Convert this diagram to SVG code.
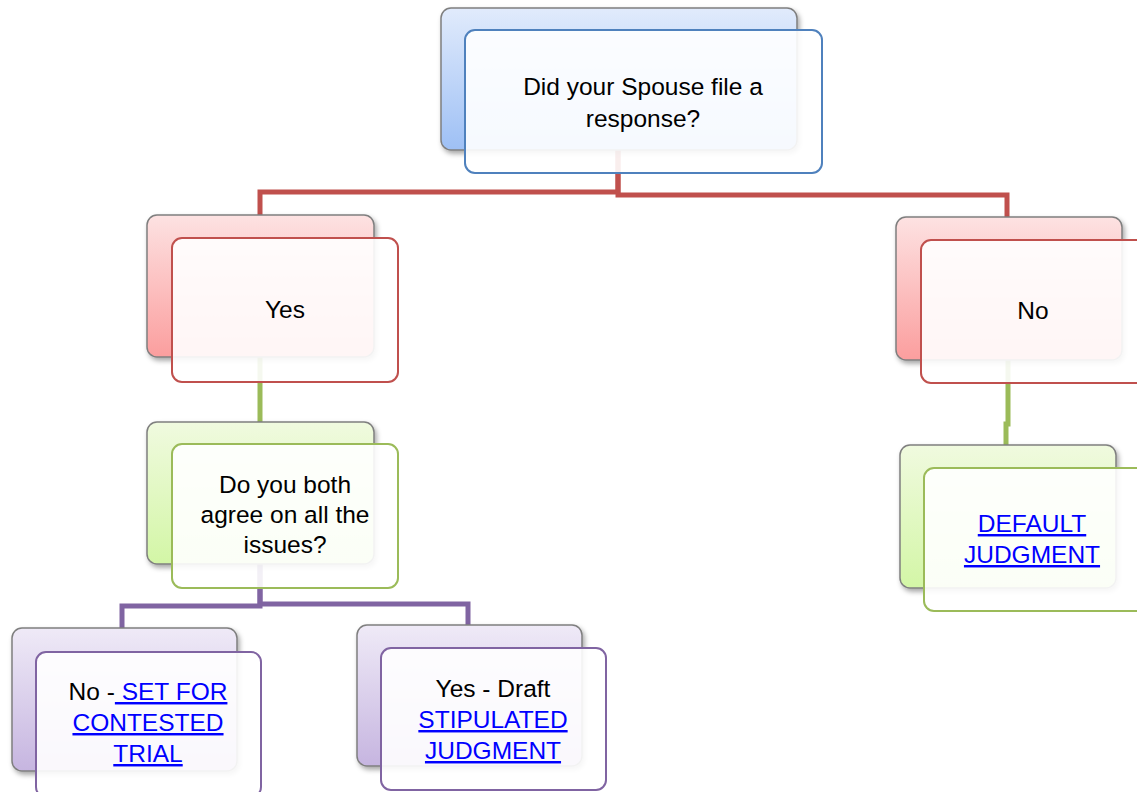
<svg xmlns="http://www.w3.org/2000/svg" width="1137" height="792" viewBox="0 0 1137 792">
<defs>
<linearGradient id="gBlue" x1="0" y1="0" x2="0" y2="1"><stop offset="0" stop-color="#e1ebfc"/><stop offset="1" stop-color="#9ec0f5"/></linearGradient>
<linearGradient id="gRed" x1="0" y1="0" x2="0" y2="1"><stop offset="0" stop-color="#fde2e2"/><stop offset="1" stop-color="#fb9e9e"/></linearGradient>
<linearGradient id="gGreen" x1="0" y1="0" x2="0" y2="1"><stop offset="0" stop-color="#f0fadf"/><stop offset="1" stop-color="#d3f6a6"/></linearGradient>
<linearGradient id="gPurple" x1="0" y1="0" x2="0" y2="1"><stop offset="0" stop-color="#efeaf7"/><stop offset="1" stop-color="#c6b5e0"/></linearGradient>
<filter id="sh" x="-10%" y="-10%" width="125%" height="130%"><feDropShadow dx="2" dy="3" stdDeviation="2.5" flood-color="#000" flood-opacity="0.35"/></filter>
</defs>
<style>
.back{stroke:#7f7f7f;stroke-width:1.5;filter:url(#sh)}
.front{fill:#ffffff;fill-opacity:0.9;stroke-width:2}
.t{font-family:"Liberation Sans",Arial,sans-serif;font-size:24.5px;fill:#000;text-anchor:middle}
.lk{fill:#0000ff;text-decoration:underline}
.c{fill:none;stroke-width:5}
.red{stroke:#c0504d}.grn{stroke:#9bbb59}.pur{stroke:#8064a2}
</style>
<g id="connectors">
<path class="c red" d="M618 150 V192 H260 V215"/>
<path class="c red" d="M618 150 V195 H1007 V217"/>
<path class="c grn" d="M260 357 V422"/>
<path class="c grn" d="M1008 360 V424 H1006 V445"/>
<path class="c pur" d="M260 564 V606 H122 V628"/>
<path class="c pur" d="M260 564 V604 H468 V625"/>
</g>
<g id="n-spouse">
<rect class="back" x="441" y="8" width="356" height="142" rx="10" fill="url(#gBlue)"/>
<rect class="front" x="465" y="30" width="357" height="143" rx="10" stroke="#4f81bd"/>
<text class="t" x="643" y="95">Did your Spouse file a</text>
<text class="t" x="643" y="127">response?</text>
</g>
<g id="n-yes">
<rect class="back" x="147" y="215" width="227" height="142" rx="10" fill="url(#gRed)"/>
<rect class="front" x="172" y="238" width="226" height="144" rx="10" stroke="#c0504d"/>
<text class="t" x="285" y="318">Yes</text>
</g>
<g id="n-no">
<rect class="back" x="896" y="217" width="226" height="143" rx="10" fill="url(#gRed)"/>
<rect class="front" x="921" y="240" width="226" height="143" rx="10" stroke="#c0504d"/>
<text class="t" x="1033" y="319">No</text>
</g>
<g id="n-agree">
<rect class="back" x="147" y="422" width="227" height="142" rx="10" fill="url(#gGreen)"/>
<rect class="front" x="172" y="444" width="226" height="144" rx="10" stroke="#9bbb59"/>
<text class="t" x="285" y="493">Do you both</text>
<text class="t" x="285" y="523">agree on all the</text>
<text class="t" x="285" y="553">issues?</text>
</g>
<g id="n-default">
<rect class="back" x="900" y="445" width="216" height="143" rx="10" fill="url(#gGreen)"/>
<rect class="front" x="924" y="468" width="226" height="143" rx="10" stroke="#9bbb59"/>
<text class="t" x="1032" y="532"><tspan class="lk">DEFAULT</tspan></text>
<text class="t" x="1032" y="563"><tspan class="lk">JUDGMENT</tspan></text>
</g>
<g id="n-contested">
<rect class="back" x="12" y="628" width="225" height="143" rx="10" fill="url(#gPurple)"/>
<rect class="front" x="36" y="652" width="225" height="145" rx="10" stroke="#8064a2"/>
<text class="t" x="148" y="700">No -<tspan class="lk"> SET FOR</tspan></text>
<text class="t" x="148" y="731"><tspan class="lk">CONTESTED</tspan></text>
<text class="t" x="148" y="762"><tspan class="lk">TRIAL</tspan></text>
</g>
<g id="n-stipulated">
<rect class="back" x="357" y="625" width="225" height="141" rx="10" fill="url(#gPurple)"/>
<rect class="front" x="381" y="648" width="225" height="142" rx="10" stroke="#8064a2"/>
<text class="t" x="493" y="697">Yes - Draft</text>
<text class="t" x="493" y="728"><tspan class="lk">STIPULATED</tspan></text>
<text class="t" x="493" y="759"><tspan class="lk">JUDGMENT</tspan></text>
</g>
</svg>
